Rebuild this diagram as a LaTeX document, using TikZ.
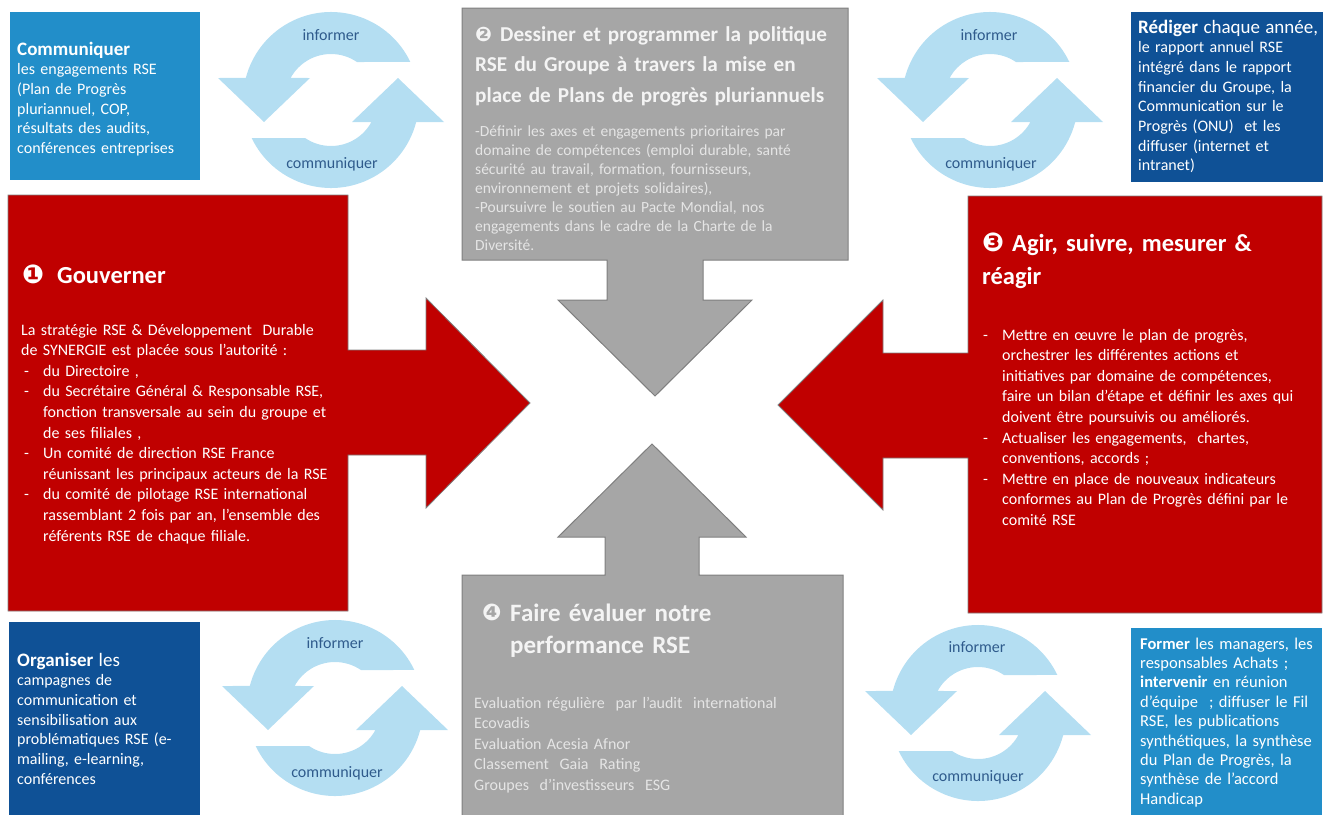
\documentclass[tikz,border=0pt]{standalone}
\usepackage{fontspec}
\setmainfont{Carlito}
\newfontfamily\dejavu{DejaVu Sans}
\definecolor{rsered}{HTML}{C00000}
\definecolor{rsegray}{HTML}{A6A6A6}
\definecolor{rseedge}{HTML}{7F7F7F}
\definecolor{rsemblue}{HTML}{228EC9}
\definecolor{rsedblue}{HTML}{0F5196}
\definecolor{rselblue}{HTML}{B4DEF2}
\definecolor{rseltxt}{HTML}{2F5B8C}
\definecolor{rsegtxt}{HTML}{F4F4F4}
\newcommand\myb{\hspace*{3pt}\makebox[19pt][l]{-}}
\newcommand\myi{\hspace*{22pt}}
\newcommand\numg[2]{{\dejavu\fontsize{#1}{#1}\selectfont #2}}
\newcommand\firstln{\fontsize{19}{20}\selectfont}
\begin{document}
\begin{tikzpicture}[x=1pt,y=-1pt,
  redshape/.style={fill=rsered, draw=rseedge, line width=0.8pt},
  grayshape/.style={fill=rsegray, draw=rseedge, line width=1pt},
  txtbase/.style={inner sep=0pt, anchor=base west, align=left, text width=380pt, text=white},
  bluetxt/.style={txtbase, font=\fontsize{16}{19.7}\selectfont},
  redtxt/.style={txtbase, font=\fontsize{16}{20.6}\selectfont},
  redtitle/.style={txtbase, font=\fontsize{24.5}{33}\selectfont\bfseries},
  graytitle/.style={txtbase, text=rsegtxt, font=\fontsize{21.2}{30.5}\selectfont\bfseries},
  graytitleb/.style={txtbase, text=rsegtxt, font=\fontsize{25}{32}\selectfont\bfseries},
  graytxt/.style={txtbase, text=rsegtxt!94!black, font=\fontsize{15.5}{19}\selectfont},
  graytxtb/.style={txtbase, text=rsegtxt!94!black, font=\fontsize{16}{20.6}\selectfont},
  cyclbl/.style={inner sep=0pt, text=rseltxt, font=\fontsize{16}{16}\selectfont},
  cycarrow/.pic={
    \foreach \rr in {0,180}{
      \fill[rselblue, rotate=\rr] (-25.6:88) arc[start angle=-25.6, end angle=-165.5, radius=88]
        -- (-113,-22) -- (-67,22) -- (-21,-22) -- (-151.4:46)
        arc[start angle=-151.4, end angle=-55.7, radius=46] -- cycle;
    }
  }
]
\useasboundingbox (0,0) rectangle (1329,814);

% ---- big shapes
\path[redshape] (8,195) -- (348,195) -- (348,350) -- (426,350) -- (426,298) -- (530,403)
  -- (426,508) -- (426,455) -- (348,455) -- (348,611) -- (8,611) -- cycle;
\path[redshape] (1322,196) -- (968,196) -- (968,353) -- (883,353) -- (883,300) -- (778,405)
  -- (883,510) -- (883,458) -- (968,458) -- (968,613) -- (1322,613) -- cycle;
\path[grayshape] (462,8) -- (848,8) -- (848,260) -- (703,260) -- (703,300) -- (752,300)
  -- (655,396) -- (558,300) -- (607,300) -- (607,260) -- (462,260) -- cycle;
\path[grayshape] (462,575) -- (605,575) -- (605,537) -- (558,537) -- (652,444) -- (746,537)
  -- (699,537) -- (699,575) -- (843,575) -- (843,824) -- (462,824) -- cycle;

% ---- blue boxes
\fill[rsemblue] (10,12) rectangle (200,180);
\fill[rsedblue] (1131,12) rectangle (1323,182);
\fill[rsedblue] (9,622) rectangle (200,824);
\fill[rsemblue] (1131,628) rectangle (1322,824);

% ---- cycle arrows
\pic at (331,100) {cycarrow};
\pic at (990,100) {cycarrow};
\pic at (335,708) {cycarrow};
\pic at (978,713) {cycarrow};
\node[cyclbl] (inf1) at (331,35) {informer};
\node[cyclbl] (com1) at (332,164) {communiquer};
\node[cyclbl] (inf2) at (989,35) {informer};
\node[cyclbl] (com2) at (991,164) {communiquer};
\node[cyclbl] (inf3) at (335,643) {informer};
\node[cyclbl] (com3) at (337,773) {communiquer};
\node[cyclbl] (inf4) at (977,647) {informer};
\node[cyclbl] (com4) at (978,777) {communiquer};

% ---- blue box texts
\node[bluetxt] (tl) at (17,55) {{\firstln\bfseries Communiquer}\\les engagements RSE\\(Plan de Progrès\\pluriannuel, COP,\\résultats des audits,\\conférences entreprises};
\node[bluetxt] (tr) at (1138,33) {{\firstln\textbf{Rédiger} chaque année,}\\le rapport annuel RSE\\intégré dans le rapport\\financier du Groupe, la\\Communication sur le\\Progrès (ONU) \ et les\\diffuser (internet et\\intranet)};
\node[bluetxt] (bl) at (17,666) {{\firstln\textbf{Organiser} les}\\campagnes de\\communication et\\sensibilisation aux\\problématiques RSE (e-\\mailing, e-learning,\\conférences};
\node[txtbase, font=\fontsize{16.5}{19.4}\selectfont] (br) at (1140,649) {\textbf{Former} les managers, les\\responsables Achats ;\\\textbf{intervenir} en réunion\\d’équipe \ ; diffuser le Fil\\RSE, les publications\\synthétiques, la synthèse\\du Plan de Progrès, la\\synthèse de l’accord\\Handicap};

% ---- red texts
\node[redtitle] (t1) at (22,283) {\makebox[35pt][l]{\numg{26}{❶}}Gouverner};
\node[redtxt] (b1) at (21,335) {La stratégie RSE \& Développement \ Durable\\de SYNERGIE est placée sous l’autorité :\\\myb du Directoire ,\\\myb du Secrétaire Général \& Responsable RSE,\\\myi fonction transversale au sein du groupe et\\\myi de ses filiales ,\\\myb Un comité de direction RSE France\\\myi réunissant les principaux acteurs de la RSE\\\myb du comité de pilotage RSE international\\\myi rassemblant 2 fois par an, l’ensemble des\\\myi référents RSE de chaque filiale.};
\node[redtitle] (t3) at (982,251) {\makebox[30pt][l]{\numg{26}{❸}}Agir, suivre, mesurer \&\\réagir};
\node[redtxt] (b3) at (980,340) {\myb Mettre en œuvre le plan de progrès,\\\myi orchestrer les différentes actions et\\\myi initiatives par domaine de compétences,\\\myi faire un bilan d’étape et définir les axes qui\\\myi doivent être poursuivis ou améliorés.\\\myb Actualiser les engagements, \ chartes,\\\myi conventions, accords ;\\\myb Mettre en place de nouveaux indicateurs\\\myi conformes au Plan de Progrès défini par le\\\myi comité RSE};

% ---- gray texts
\node[graytitle] (t2) at (475,41) {\makebox[25pt][l]{\numg{20}{❷}}Dessiner et programmer la politique\\RSE du Groupe à travers la mise en\\place de Plans de progrès pluriannuels};
\node[graytxt] (b2) at (475,136) {-Définir les axes et engagements prioritaires par\\domaine de compétences (emploi durable, santé\\sécurité au travail, formation, fournisseurs,\\environnement et projets solidaires),\\-Poursuivre le soutien au Pacte Mondial, nos\\engagements dans le cadre de la Charte de la\\Diversité.};
\node[graytitleb] (n4) at (482,620) {\numg{23}{❹}};
\node[graytitleb] (t4) at (510,621) {Faire évaluer notre\\performance RSE};
\node[graytxtb] (b4) at (474,708) {Evaluation régulière \ par l’audit \ international\\Ecovadis\\Evaluation Acesia Afnor\\Classement \ Gaia \ Rating\\Groupes \ d’investisseurs \ ESG};
\end{tikzpicture}
\end{document}
